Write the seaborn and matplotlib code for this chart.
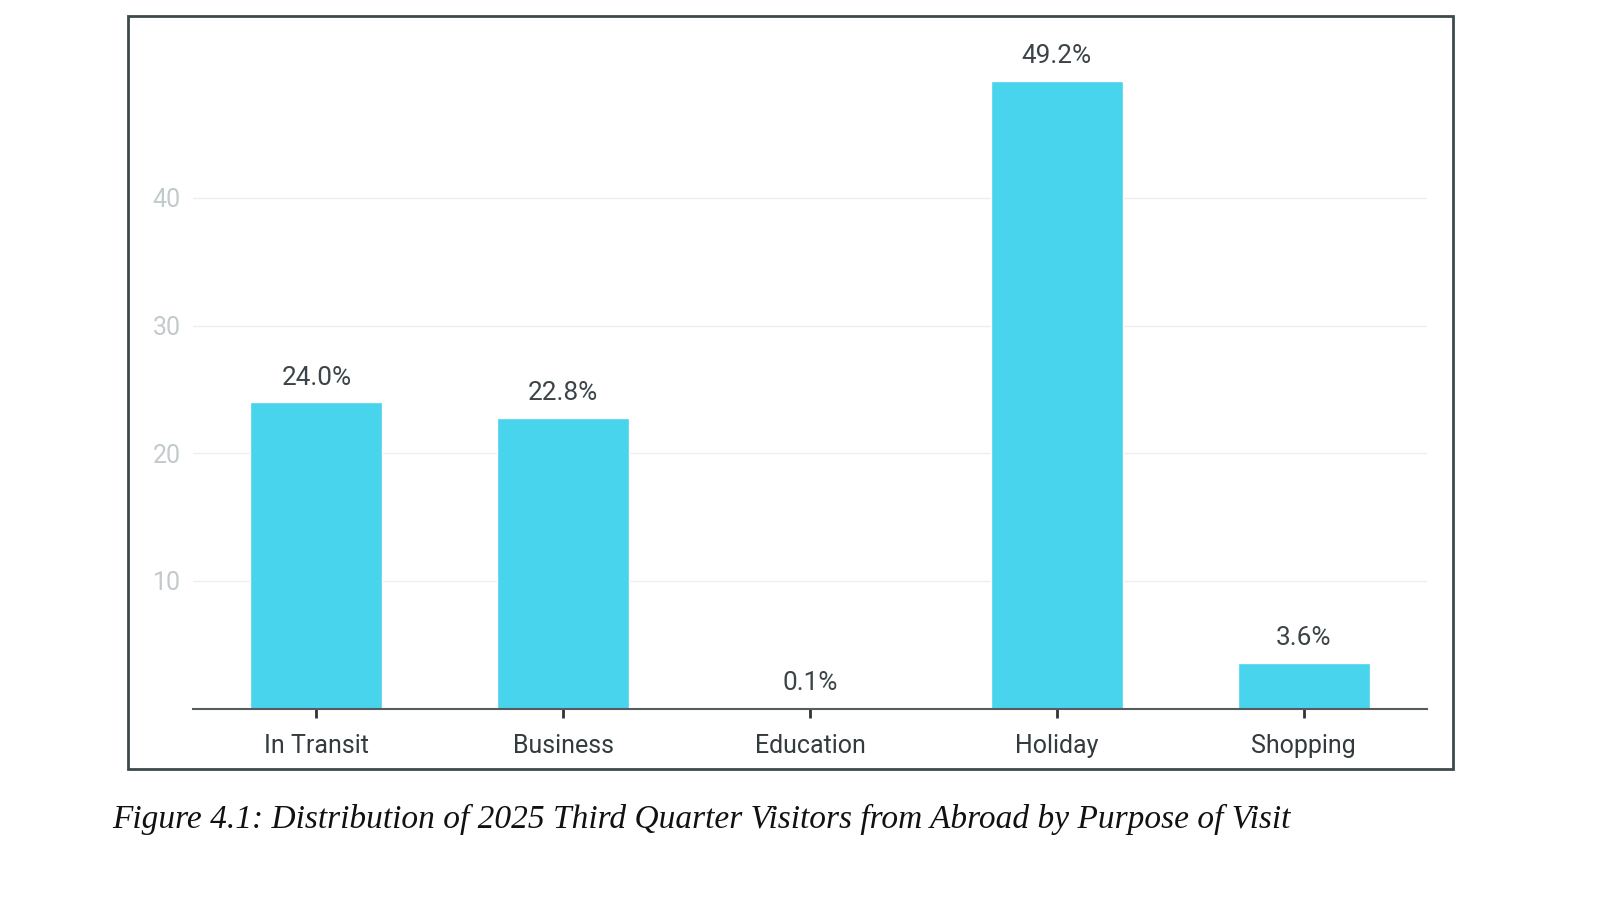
import pandas as pd
import matplotlib.pyplot as plt
import seaborn as sns
from matplotlib.patches import Rectangle

# datos
categories = ['In Transit', 'Business', 'Education', 'Holiday', 'Shopping']
shares = [24.0, 22.8, 0.1, 49.2, 3.6]
y_ticks = [10, 20, 30, 40]
caption = 'Figure 4.1: Distribution of 2025 Third Quarter Visitors from Abroad by Purpose of Visit'

df = pd.DataFrame({'purpose': categories, 'share': shares})

sns.set_theme(style='white')
plt.rcParams['font.family'] = ['Roboto', 'DejaVu Sans']

fig = plt.figure(figsize=(16, 9), dpi=100)
ax = fig.add_axes([0.1206, 0.2126, 0.77125, 0.766])

sns.barplot(data=df, x='purpose', y='share', color='#48D4EC', width=0.535,
            saturation=1, ax=ax)

ax.set_xlim(-0.5, 4.5)
ax.set_ylim(0, 54)
ax.set_yticks(y_ticks)
ax.set_xlabel('')
ax.set_ylabel('')

# grid horizontal muy suave
ax.yaxis.grid(True, color='#efefef', linewidth=1)
ax.set_axisbelow(True)

for s in ['top', 'right', 'left']:
    ax.spines[s].set_visible(False)
ax.spines['bottom'].set_color('#555c5e')
ax.spines['bottom'].set_linewidth(1.5)

ax.tick_params(axis='y', length=0, pad=9, labelsize=18, labelcolor='#c3cacc')
ax.tick_params(axis='x', length=6.5, width=2, color='#2f3436', pad=12,
               labelsize=18, labelcolor='#343b3e', bottom=True)

# etiquetas de porcentaje arriba de cada barra
for bar, v in zip(ax.patches, shares):
    ax.annotate(f'{v:.1f}%', (bar.get_x() + bar.get_width() / 2, bar.get_height()),
                xytext=(0, 9), textcoords='offset points', ha='center', va='bottom',
                fontsize=18.8, color='#3b4448', clip_on=False)

# marco alrededor del grafico
fig.patches.append(Rectangle((128 / 1600, 1 - 769 / 900), (1453 - 128) / 1600, (769 - 16) / 900,
                             transform=fig.transFigure, fill=False,
                             edgecolor='#3c4a4c', linewidth=2))

fig.text(112 / 1600, 1 - 819 / 900, caption, family='Liberation Serif', style='italic',
         fontsize=24, color='#111111', ha='left', va='center')

fig.savefig('out.png', dpi=100, facecolor='white')
